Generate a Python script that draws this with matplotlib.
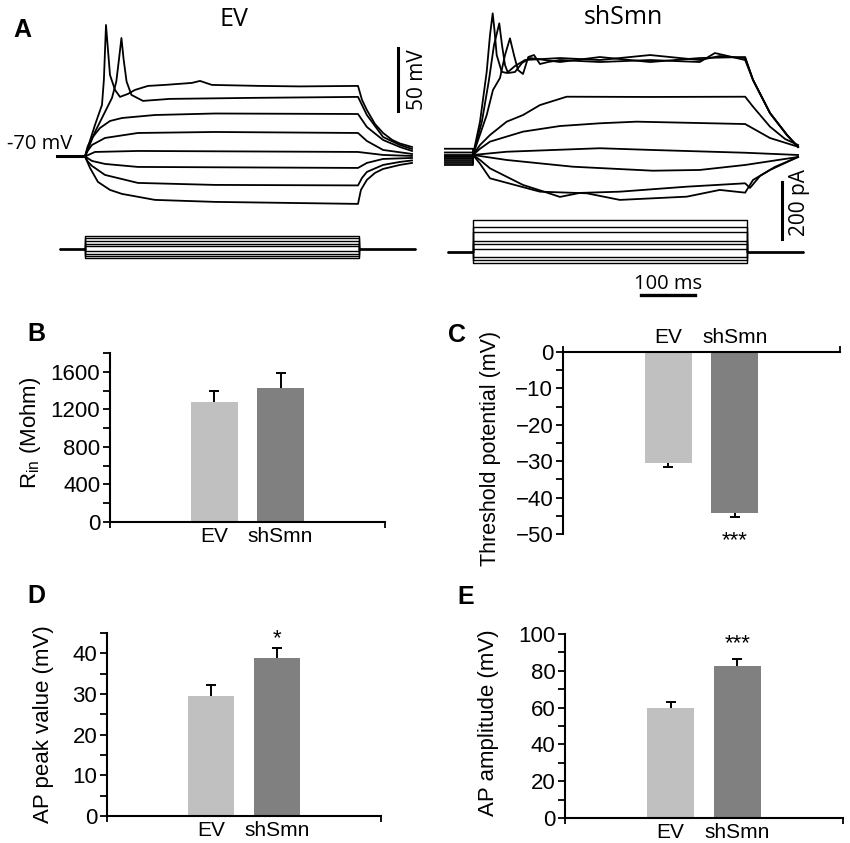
import matplotlib
matplotlib.use("Agg")
import matplotlib.pyplot as plt
import numpy as np

plt.rcParams.update({'font.family': ['Liberation Sans', 'DejaVu Sans'],
                     'mathtext.fontset': 'custom',
                     'mathtext.rm': 'Liberation Sans',
                     'axes.linewidth': 1.5})

# ---- panel A: voltage traces (ms, mV) ----
ev_trace1 = [(-52, -70), (0, -70), (18.5, -44.8), (31.5, -28.7), (35, -8.7), (38.9, 35.3), (42.6, 15.3),
             (46.3, -4.7), (55.6, -16.7), (64.8, -22.3), (79.6, -19.9), (92.6, -16.7), (116.7, -13.5),
             (148, -12.7), (198, -11.1), (213, -9.5), (235, -12.7), (324, -13.5), (398, -13.9),
             (505.6, -13.5), (513, -24.7), (522, -32.8), (537, -44), (552, -51.2), (569, -56.8),
             (583, -59.6), (605.6, -62.4)]
ev_trace2 = [(-52, -70), (0, -70), (18.5, -50.4), (37, -34.4), (50, -23.1), (58, -10), (63, 8),
             (67.5, 24.9), (71.5, 8), (77, -10), (86, -20.7), (107.4, -25.5), (157, -23.9),
             (305.6, -23.1), (505.6, -22.3), (522, -36.8), (552, -54.4), (583, -60.8), (605.6, -64)]
ev_trace3 = [(-52, -70), (0, -70), (5, -62), (13, -55.2), (27.8, -47.2), (46.3, -41.6), (68.5, -39.2),
             (129.6, -36.8), (240.7, -35.6), (505.6, -36), (522, -46.4), (552, -56.8), (583, -62.4),
             (605.6, -65.6)]
ev_trace4 = [(-52, -70), (0, -70), (5, -65.5), (13, -60.8), (37, -55.2), (98, -51.2), (240.7, -50.4),
             (505.6, -51.2), (522, -57.6), (552, -64.8), (605.6, -68)]
ev_trace5 = [(-52, -70), (0, -70), (18.5, -66.4), (98, -65.6), (505.6, -66.4), (552, -68.8), (605.6, -69.6)]
ev_trace6 = [(-52, -70), (0, -70), (13, -73.6), (37, -76), (98, -78.4), (505.6, -79.2), (522, -75.2),
             (552, -72), (605.6, -71.2)]
ev_trace7 = [(-52, -70), (0, -70), (5, -74), (13, -77.6), (37, -84.8), (98, -91.2), (240.7, -92.8),
             (505.6, -93.2), (513, -87.2), (522, -82.4), (552, -76.8), (583, -74.4), (605.6, -73.2)]
ev_trace8 = [(-52, -70), (0, -70), (9.3, -79.2), (24, -90.4), (46.3, -96.8), (68.5, -100), (129.6, -104.8),
             (240.7, -106.4), (505.6, -108), (511, -96.8), (522, -88.8), (537, -83.2), (552, -80),
             (583, -76.8), (605.6, -75.2)]

sh_trace1 = [(-52, -65), (0, -65), (0, -70), (13, -43.3), (25.4, -3.3), (31.5, 26.1), (36.5, 43.5),
             (39.8, 30.1), (43.9, 10.1), (53.2, -3.3), (62.4, -4.3), (77.8, 1.3), (96.3, 6.1), (161, 7.7),
             (235, 6.1), (328, 10.1), (420, 6.1), (457, 9.3), (504, 7.7), (518.6, -9.9), (550, -36.4),
             (581.5, -54), (602, -63.6)]
sh_trace2 = [(-52, -68), (0, -68), (0, -70), (16.7, -42.8), (29.6, -9.9), (38.9, 18.1), (48.7, 35.5),
             (53.7, 18.1), (59.3, 2.1), (64.8, -4.3), (77.8, -3.5), (90.7, 3.7), (105.6, 7.7), (161, 4.5),
             (235, 8.5), (328, 4.5), (420, 7.7), (504, 8.5), (518.6, -9.9), (550, -36.4), (581.5, -54),
             (602, -63.6)]
sh_trace3 = [(-52, -71), (0, -71), (0, -70), (25.4, -38), (37, -17.9), (50, -8.3), (59.3, 10.1),
             (68.5, 23.5), (75.9, 10.1), (83.3, -1.9), (92.6, -5.1), (102.4, 8.5), (113, 10.1), (124, 2.9),
             (139, 4.5), (161, 6.1), (235, 4.5), (328, 6.1), (420, 4.5), (448, 11.7), (504, 6.1),
             (518.6, -9.9), (550, -36.4), (581.5, -54), (602, -63.6)]
sh_trace4 = [(-52, -72.4), (0, -72.4), (0, -70), (13, -62), (31.5, -54), (62.4, -43.3), (92.6, -38),
             (124, -30), (173.5, -23.3), (328, -23.5), (504, -23.3), (518.6, -31.3), (550, -47.3),
             (578, -57.2), (602, -62)]
sh_trace5 = [(-52, -73.2), (0, -73.2), (0, -70), (13, -65), (31.5, -59.3), (92.6, -51.3), (161, -46.8),
             (235, -44.6), (303, -43.3), (420, -44.4), (504, -45.2), (550, -56.4), (602, -63.4)]
sh_trace6 = [(-52, -70), (0, -70), (62.4, -67.4), (235, -64.6), (333, -66), (504, -68.2), (602, -70)]
sh_trace7 = [(-52, -74.8), (0, -74.8), (0, -70), (62.4, -74), (185, -79.4), (333, -82.6), (420, -82),
             (504, -78), (602, -71.6)]
sh_trace8 = [(-52, -76.4), (0, -76.4), (0, -70), (13, -74), (31.5, -80.7), (92.6, -94), (133, -99.6),
             (161, -103.6), (198, -100.4), (272, -99.4), (396, -95.4), (504, -92.7), (513, -96.4),
             (531.5, -86.8), (559, -79.6), (602, -71.6)]
sh_trace9 = [(-52, -78), (0, -78), (0, -70), (13, -77), (31.5, -88.7), (124, -99.4), (210.6, -100.7),
             (272, -106), (396, -103.4), (457, -98), (504, -100.2), (518.6, -90), (550, -82), (602, -71.6)]

# current steps (pA)
ev_steps = [-30, -23, -15, -6, 12, 20, 29, 38, 47]
sh_steps = [-39, -28, -16, 10, 28, 40, 71, 89, 112]
step_on, step_off = 0, 507
base_start, base_end = -46, 611

# ---- bar panels ----
groups = ['EV', 'shSmn']
rin_mean = [1280, 1430]
rin_sem = [117, 160]
thr_mean = [-30.5, -44.2]
thr_sem = [1.1, 1.1]
peak_mean = [29.4, 38.8]
peak_sem = [2.7, 2.4]
amp_mean = [59.8, 82.6]
amp_sem = [3.2, 3.8]

bar_colors = ['#c0c0c0', '#808080']
W, H = 850, 843

fig = plt.figure(figsize=(8.5, 8.43), dpi=100)


def px_axes(left, top, right, bottom):
    return fig.add_axes([left / W, 1 - bottom / H, (right - left) / W, (bottom - top) / H])


def draw_traces(ax, traces):
    for tr in traces:
        t, v = zip(*tr)
        ax.plot(t, v, color='black', lw=1.3, solid_joinstyle='round')


def draw_steps(ax, steps):
    for s in steps:
        ax.plot([base_start, step_on, step_on, step_off, step_off, base_end], [0, 0, s, s, 0, 0],
                color='black', lw=1.0)


tfont = {'family': ['Open Sans', 'DejaVu Sans']}

# EV
ax = px_axes(40, 15, 420, 215)
draw_traces(ax, [ev_trace1, ev_trace2, ev_trace3, ev_trace4, ev_trace5, ev_trace6, ev_trace7, ev_trace8])
ax.plot([-52, 0], [-70, -70], color='black', lw=2.2)
ax.set_xlim(-83.3, 620.4)
ax.set_ylim(-116.9, 43.3)
ax.plot([580, 580], [-33.3, 16.7], color='black', lw=2.2)
ax.text(615, -8.5, '50 mV', rotation=90, ha='center', va='center', fontsize=15, **tfont)
ax.text(-24, -60, '-70 mV', ha='right', va='center', fontsize=14.5, **tfont)
ax.axis('off')

ax = px_axes(40, 225, 420, 270)
draw_steps(ax, ev_steps)
ax.set_xlim(-83.3, 620.4)
ax.set_ylim(-72.6, 85.3)
ax.axis('off')

# shSmn
ax = px_axes(430, 5, 810, 215)
draw_traces(ax, [sh_trace1, sh_trace2, sh_trace3, sh_trace4, sh_trace5, sh_trace6, sh_trace7, sh_trace8,
                 sh_trace9])
ax.set_xlim(-79.6, 624.1)
ax.set_ylim(-118.1, 50.2)
ax.axis('off')

ax = px_axes(430, 175, 810, 300)
draw_steps(ax, sh_steps)
ax.set_xlim(-79.6, 624.1)
ax.set_ylim(-168.4, 270.2)
ax.plot([572, 572], [45.6, 245.6], color='black', lw=2.2)
ax.text(604, 175, '200 pA', rotation=90, ha='center', va='center', fontsize=15, **tfont)
ax.plot([311, 411], [-150.9, -150.9], color='black', lw=2.4)
ax.text(361, -112, '100 ms', ha='center', va='center', fontsize=14.5, **tfont)
ax.axis('off')

fig.text(234 / W, 1 - 20 / H, 'EV', ha='center', va='center', fontsize=18, **tfont)
fig.text(623 / W, 1 - 17 / H, 'shSmn', ha='center', va='center', fontsize=18, **tfont)


# bar charts
def bar_panel(box, means, sems, ylim, major, minor, ylabel, label_xy, label_size=16, top_axis=False):
    ax = px_axes(*box)
    x = np.arange(len(groups))
    ax.bar(x, means, width=0.71, color=bar_colors, zorder=2)
    for xi, m, s in zip(x, means, sems):
        end = m - s if top_axis else m + s
        ax.vlines(xi, m, end, color='black', lw=1.4, zorder=3)
        ax.hlines(end, xi - 0.075, xi + 0.075, color='black', lw=1.4, zorder=3)
    xl = (-1.58, 2.58)
    ax.set_xlim(*xl)
    ax.set_ylim(*ylim)
    ax.set_yticks(major)
    ax.set_yticks(minor, minor=True)
    ax.set_xticks(x)
    ax.set_xticklabels(groups)
    ax.set_xticks(list(xl), minor=True)
    ax.spines['right'].set_visible(False)
    if top_axis:
        ax.spines['bottom'].set_visible(False)
        ax.xaxis.tick_top()
    else:
        ax.spines['top'].set_visible(False)
    ax.tick_params(axis='y', which='both', direction='out', length=5, width=1.3, labelsize=16, pad=2)
    ax.tick_params(axis='x', which='major', length=0, labelsize=15, pad=3.5)
    ax.tick_params(axis='x', which='minor', length=4, width=1.3)
    ax.set_ylabel(ylabel, fontsize=label_size)
    ax.yaxis.set_label_coords(*label_xy)
    return ax


bar_panel((110, 353, 385, 522), rin_mean, rin_sem, (0, 1800), np.arange(0, 1601, 400),
          np.arange(0, 1801, 200), r'R$_\mathregular{in}$ (Mohm)', (-0.244, 0.53))
axc = bar_panel((563, 352, 840, 534), thr_mean, thr_sem, (-50, 0), np.arange(-50, 1, 10),
                np.arange(-50, 1, 5), 'Threshold potential (mV)', (-0.224, 0.47), label_size=15.5,
                top_axis=True)
axc.text(1, -51.8, '***', ha='center', va='center', fontsize=16, clip_on=False)
axd = bar_panel((107, 633, 381, 816), peak_mean, peak_sem, (0, 45), np.arange(0, 41, 10),
                np.arange(0, 46, 5), 'AP peak value (mV)', (-0.193, 0.5))
axd.text(1, 43.6, '*', ha='center', va='center', fontsize=16)
axe = bar_panel((565, 634, 843, 818), amp_mean, amp_sem, (0, 100), np.arange(0, 101, 20),
                np.arange(0, 101, 10), 'AP amplitude (mV)', (-0.237, 0.52))
axe.text(1, 94.5, '***', ha='center', va='center', fontsize=16)

# panel letters
for letter, (lx, ly) in {'A': (22, 30), 'B': (36, 334), 'C': (457, 335), 'D': (36, 596), 'E': (466, 597)}.items():
    fig.text(lx / W, 1 - ly / H, letter, ha='center', va='center', fontsize=18, fontweight='bold')

fig.savefig('out.png', dpi=100)
